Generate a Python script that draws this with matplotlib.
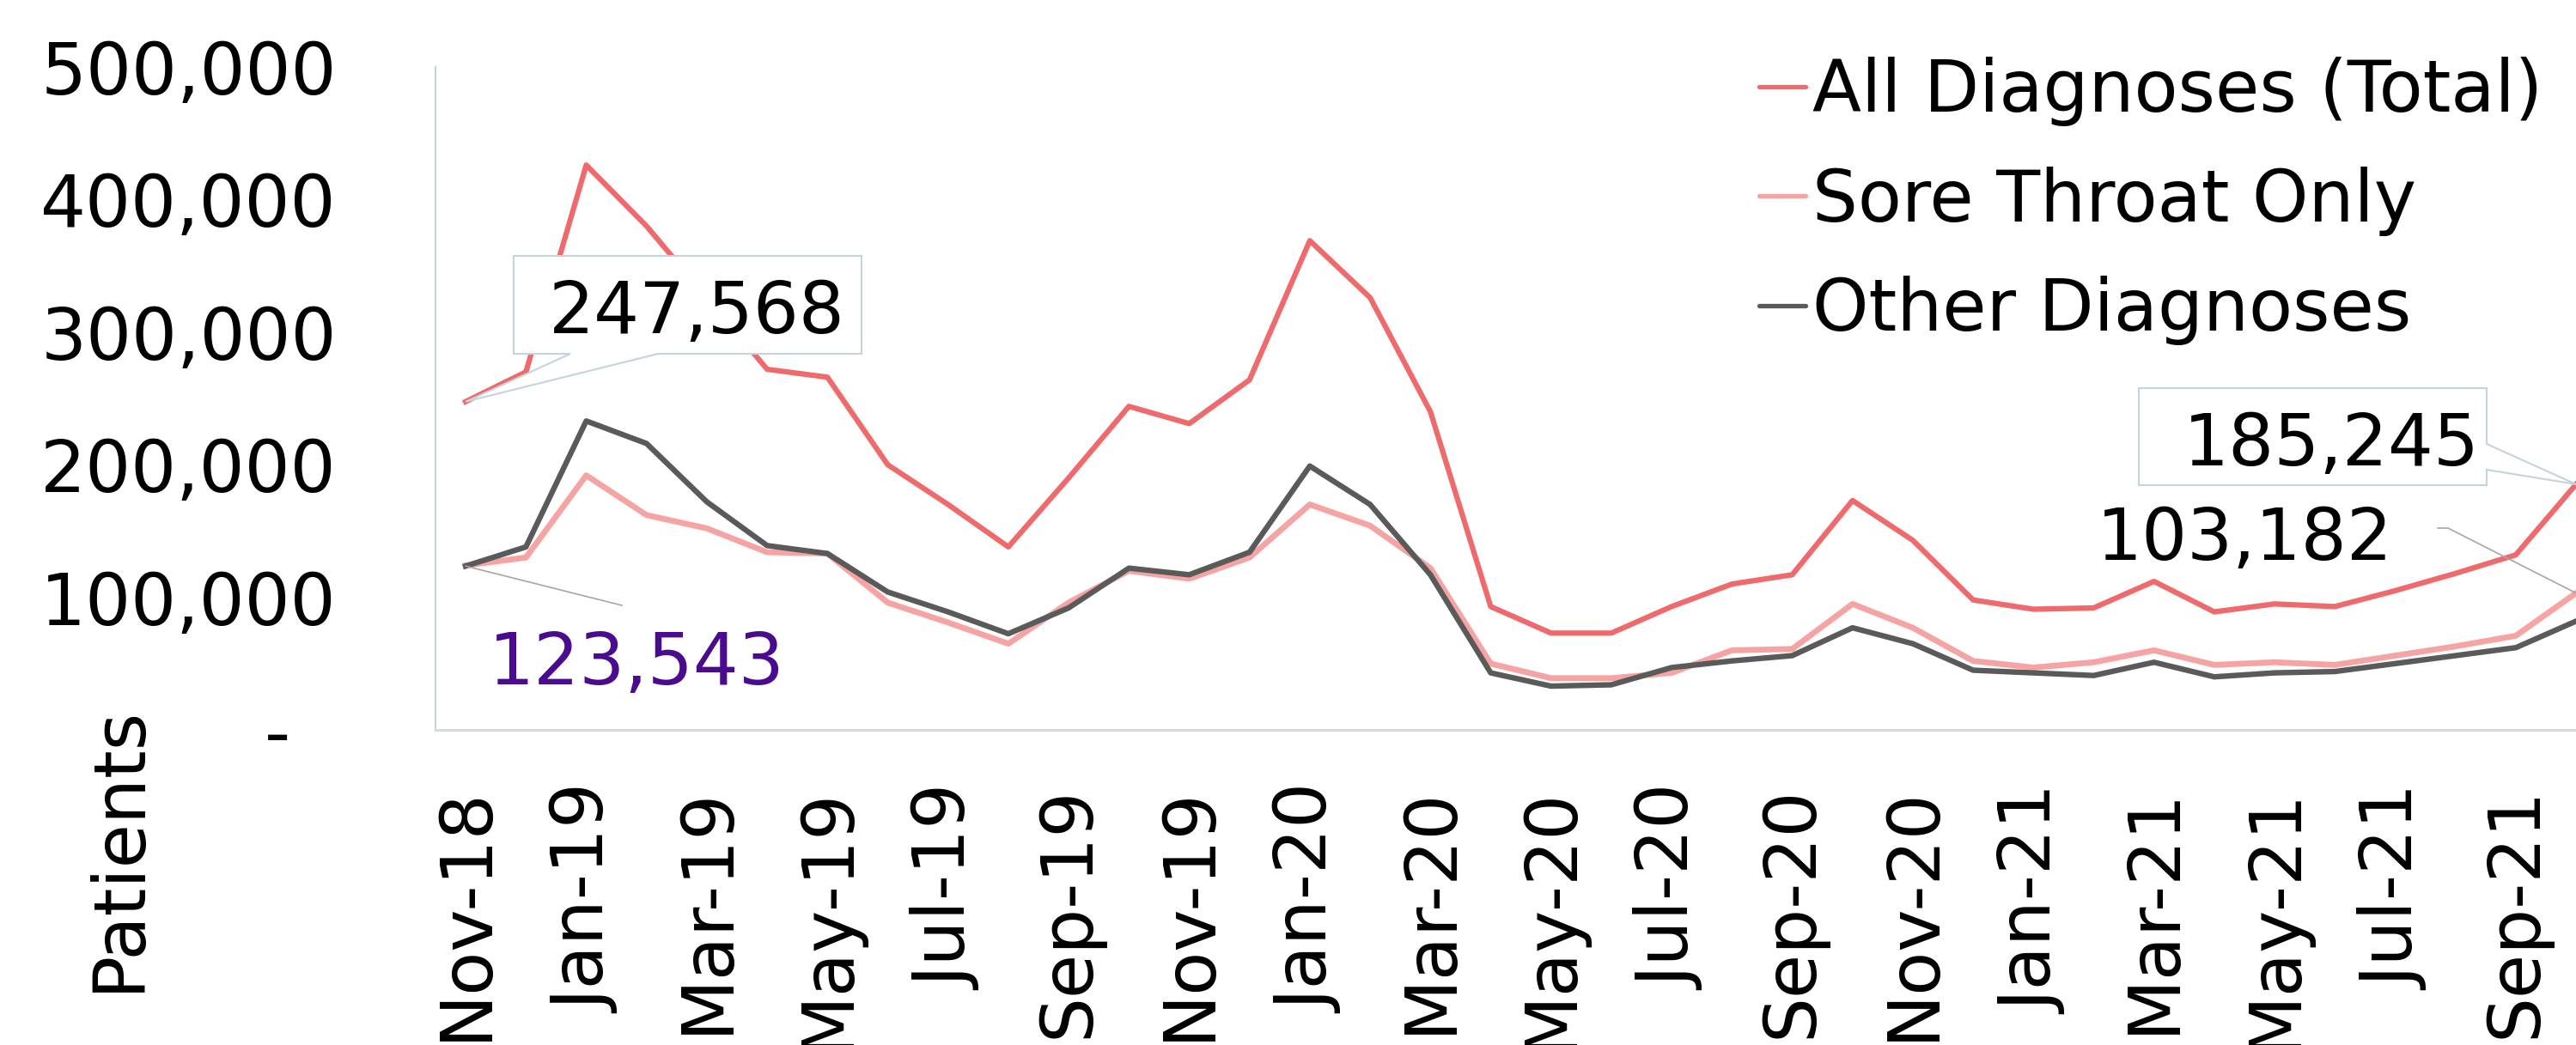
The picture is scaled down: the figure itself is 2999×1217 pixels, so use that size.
import matplotlib
matplotlib.use('Agg')
import matplotlib.pyplot as plt
from matplotlib.patches import Polygon
from matplotlib.lines import Line2D
from matplotlib.ticker import FuncFormatter

# monthly patients, Nov-18 .. Oct-21
months = ['Nov-18', 'Dec-18', 'Jan-19', 'Feb-19', 'Mar-19', 'Apr-19', 'May-19', 'Jun-19',
          'Jul-19', 'Aug-19', 'Sep-19', 'Oct-19', 'Nov-19', 'Dec-19', 'Jan-20', 'Feb-20',
          'Mar-20', 'Apr-20', 'May-20', 'Jun-20', 'Jul-20', 'Aug-20', 'Sep-20', 'Oct-20',
          'Nov-20', 'Dec-20', 'Jan-21', 'Feb-21', 'Mar-21', 'Apr-21', 'May-21', 'Jun-21',
          'Jul-21', 'Aug-21', 'Sep-21', 'Oct-21']
total = [247568, 270000, 426000, 380000, 326000, 272000, 266000, 200000, 170000, 138000,
         190000, 244000, 231000, 264000, 369000, 326000, 240000, 93000, 73000, 73000,
         93000, 110000, 117000, 173000, 143000, 98000, 91000, 92000, 112000, 89000,
         95000, 93000, 105000, 118000, 132000, 185245]
sore_throat = [124025, 130000, 192000, 162000, 152000, 134000, 133000, 96000, 81000, 65000,
               96000, 120000, 114000, 130000, 170000, 154000, 122000, 50000, 39000, 39000,
               43000, 60000, 61000, 95000, 77000, 52000, 47000, 51000, 60000, 49000,
               51000, 49000, 56000, 63000, 71000, 103182]
other = [123543, 138000, 233000, 216000, 172000, 139000, 133000, 104000, 89000, 72500,
         92000, 122000, 117000, 134000, 199000, 170000, 117000, 43000, 33000, 34000,
         47000, 52000, 56000, 77000, 65000, 45000, 43000, 41000, 51000, 40000,
         43000, 44000, 50000, 56000, 62000, 82000]

RED = '#EF6A6C'
PINK = '#F5A3A3'
DARK = '#5A5A5A'
EDGE = '#C5D3DC'
FS = 60

W, H = 2999, 1217
plt.rcParams['font.family'] = ['DejaVu Sans']
fig = plt.figure(figsize=(W / 100, H / 100), dpi=100)
fig.patch.set_facecolor('white')


def fx(px):
    return px / W


def fy(py):
    return 1 - py / H


step = 70.2
ax = fig.add_axes([fx(507), fy(850), 37 * step / W, (850 - 78) / H])
x = list(range(len(months)))
ax.plot(x, sore_throat, color=PINK, lw=4.9, zorder=2)
ax.plot(x, other, color=DARK, lw=4.6, zorder=3)
ax.plot(x, total, color=RED, lw=4.5, zorder=4)

ax.set_xlim(-0.5, 36.5)
ax.set_ylim(0, 500000)
ax.set_xticks(x[::2])
ax.set_xticklabels(months[::2], rotation=90, fontsize=FS)
ax.set_yticks(range(0, 500001, 100000))
ax.yaxis.set_major_formatter(FuncFormatter(lambda v, p: f'{v:,.0f}' if v else '-  '))
ax.tick_params(axis='y', length=0, pad=83, labelsize=FS)
ax.tick_params(axis='x', length=0, pad=47)
for s in ['top', 'right']:
    ax.spines[s].set_visible(False)
ax.spines['left'].set_color(EDGE)
ax.spines['left'].set_linewidth(1.5)
ax.spines['bottom'].set_color('#D9D9D9')
ax.spines['bottom'].set_linewidth(2.2)

fig.text(fx(138), fy(988), 'Patients', rotation=90, ha='center', va='center', fontsize=FS)


def tip(i, v):
    dx, dy = ax.transData.transform((i, v))
    return dx, H - dy


def shape(pts, **kw):
    poly = Polygon([(fx(a), fy(b)) for a, b in pts], closed=True,
                   transform=fig.transFigure, **kw)
    fig.add_artist(poly)


def line(pts, color='#A6A6A6', lw=1.2):
    fig.add_artist(Line2D([fx(a) for a, b in pts], [fy(b) for a, b in pts],
                          transform=fig.transFigure, color=color, lw=lw, zorder=5))


# callout for first total
t1 = tip(0, total[0])
shape([(598, 298), (1003, 298), (1003, 412), (766, 412), t1, (664, 412), (598, 412)],
      facecolor='white', edgecolor=EDGE, lw=1.5, zorder=5)
fig.text(fx(639), fy(388), f'{total[0]:,}', fontsize=FS, va='baseline', ha='left', zorder=6)

# callout for last total
t2 = tip(35, total[35])
shape([(2490, 452), (2895, 452), (2895, 517), t2, (2895, 547), (2895, 565), (2490, 565)],
      facecolor='white', edgecolor=EDGE, lw=1.5, zorder=5)
fig.text(fx(2887), fy(542), f'{total[35]:,}', fontsize=FS, va='baseline', ha='right', zorder=6)

# last sore throat label
line([(2838, 615), (2850, 615), tip(35, sore_throat[35])])
fig.text(fx(2441), fy(652), f'{sore_throat[35]:,}', fontsize=FS, va='baseline', ha='left')

# first other label
line([tip(0, other[0]), (724, 705)])
fig.text(fx(569), fy(797), f'{other[0]:,}', fontsize=FS, va='baseline', ha='left',
         color='#4B0B8F')

handles = [Line2D([], [], color=RED, lw=3.8, solid_capstyle='round', label='All Diagnoses (Total)'),
           Line2D([], [], color=PINK, lw=3.8, solid_capstyle='round', label='Sore Throat Only'),
           Line2D([], [], color=DARK, lw=3.8, solid_capstyle='round', label='Other Diagnoses')]
fig.legend(handles=handles, loc='upper left', bbox_to_anchor=(fx(2048), fy(66)),
           frameon=False, fontsize=FS, handlelength=0.65, handletextpad=0.1,
           borderpad=0, borderaxespad=0, labelspacing=0.56)

fig.savefig('out.png', dpi=100, facecolor='white')
